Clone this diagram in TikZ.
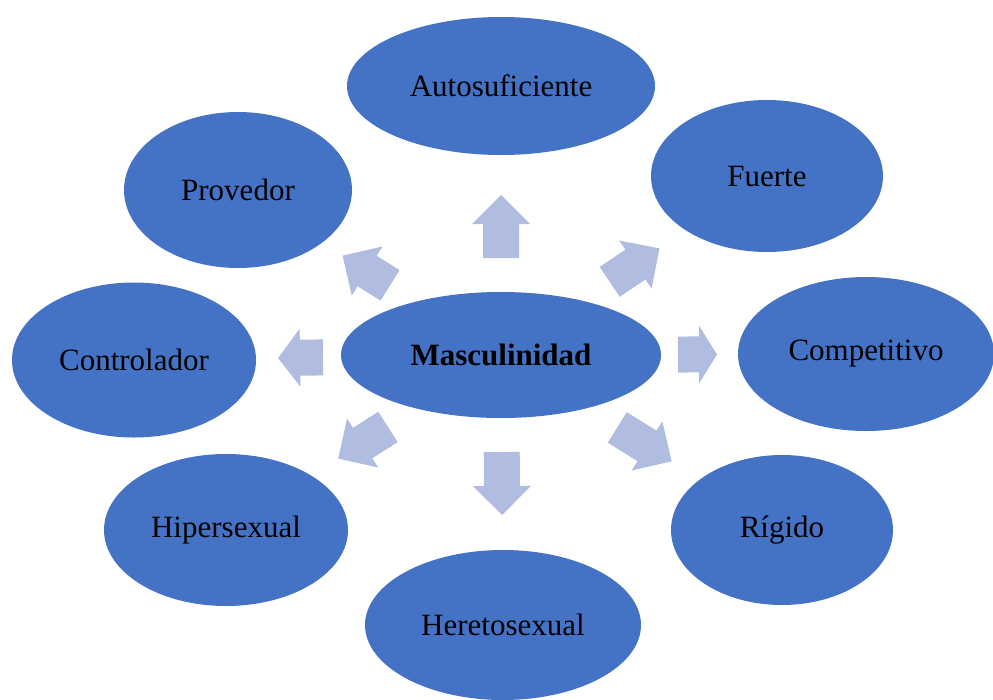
\documentclass[tikz,border=0pt]{standalone}
\usepackage{fontspec}
\setmainfont{Liberation Serif}
\usetikzlibrary{calc}
\usetikzlibrary{shapes.geometric}

\definecolor{bubbleblue}{HTML}{4472C4}
\definecolor{arrowblue}{HTML}{B0BDE0}

\tikzset{
  bubble/.style={ellipse,fill=bubbleblue,inner sep=0pt,font=\fontsize{31}{36}\selectfont},
  fatarrow/.style={fill=arrowblue}
}

% block arrow lying on the line between two nodes:
% #1 from, #2 to, #3 start, #4 head base, #5 tip (distances from #1)
\newcommand{\blockarrow}[5]{%
  \coordinate (s) at ($(#1)!#3!(#2)$);
  \coordinate (h) at ($(#1)!#4!(#2)$);
  \coordinate (t) at ($(#1)!#5!(#2)$);
  \fill[fatarrow] ($(s)!18pt!90:(h)$) -- ($(h)!18pt!-90:(s)$) -- ($(h)!29pt!-90:(s)$) -- (t)
    -- ($(h)!29pt!90:(s)$) -- ($(h)!18pt!90:(s)$) -- ($(s)!18pt!-90:(h)$) -- cycle;}

\begin{document}
\begin{tikzpicture}[x=1pt,y=-1pt]
			\useasboundingbox (0,0) rectangle (993,699);

			\node[bubble,minimum width=320pt,minimum height=126pt] (m) at (501,355) {\textbf{Masculinidad}};
			\node[bubble,minimum width=308pt,minimum height=138pt] (auto) at (501,86) {Autosuficiente};
			\node[bubble,minimum width=232pt,minimum height=152pt] (fuer) at (767,176) {Fuerte};
			\node[bubble,minimum width=256pt,minimum height=154pt] (comp) at (866,354) {Competitivo};
			\node[bubble,minimum width=222pt,minimum height=150pt] (rigi) at (782,530) {Rígido};
			\node[bubble,minimum width=276pt,minimum height=150pt] (hete) at (503,625) {Heretosexual};
			\node[bubble,minimum width=244pt,minimum height=152pt] (hipe) at (226,530) {Hipersexual};
			\node[bubble,minimum width=244pt,minimum height=155pt] (cont) at (134,360) {Controlador};
			\node[bubble,minimum width=228pt,minimum height=156pt] (prov) at (238,190) {Provedor};

			\blockarrow{m}{auto}{97pt}{131pt}{160pt}
			\blockarrow{m}{fuer}{131pt}{162pt}{191pt}
			\blockarrow{m}{comp}{177pt}{198pt}{216pt}
			\blockarrow{m}{rigi}{137pt}{172pt}{201pt}
			\blockarrow{m}{hete}{97pt}{131pt}{160pt}
			\blockarrow{m}{hipe}{134pt}{164pt}{193pt}
			\blockarrow{m}{cont}{178pt}{201pt}{223pt}
			\blockarrow{m}{prov}{131pt}{158pt}{187pt}
		\end{tikzpicture}
\end{document}
